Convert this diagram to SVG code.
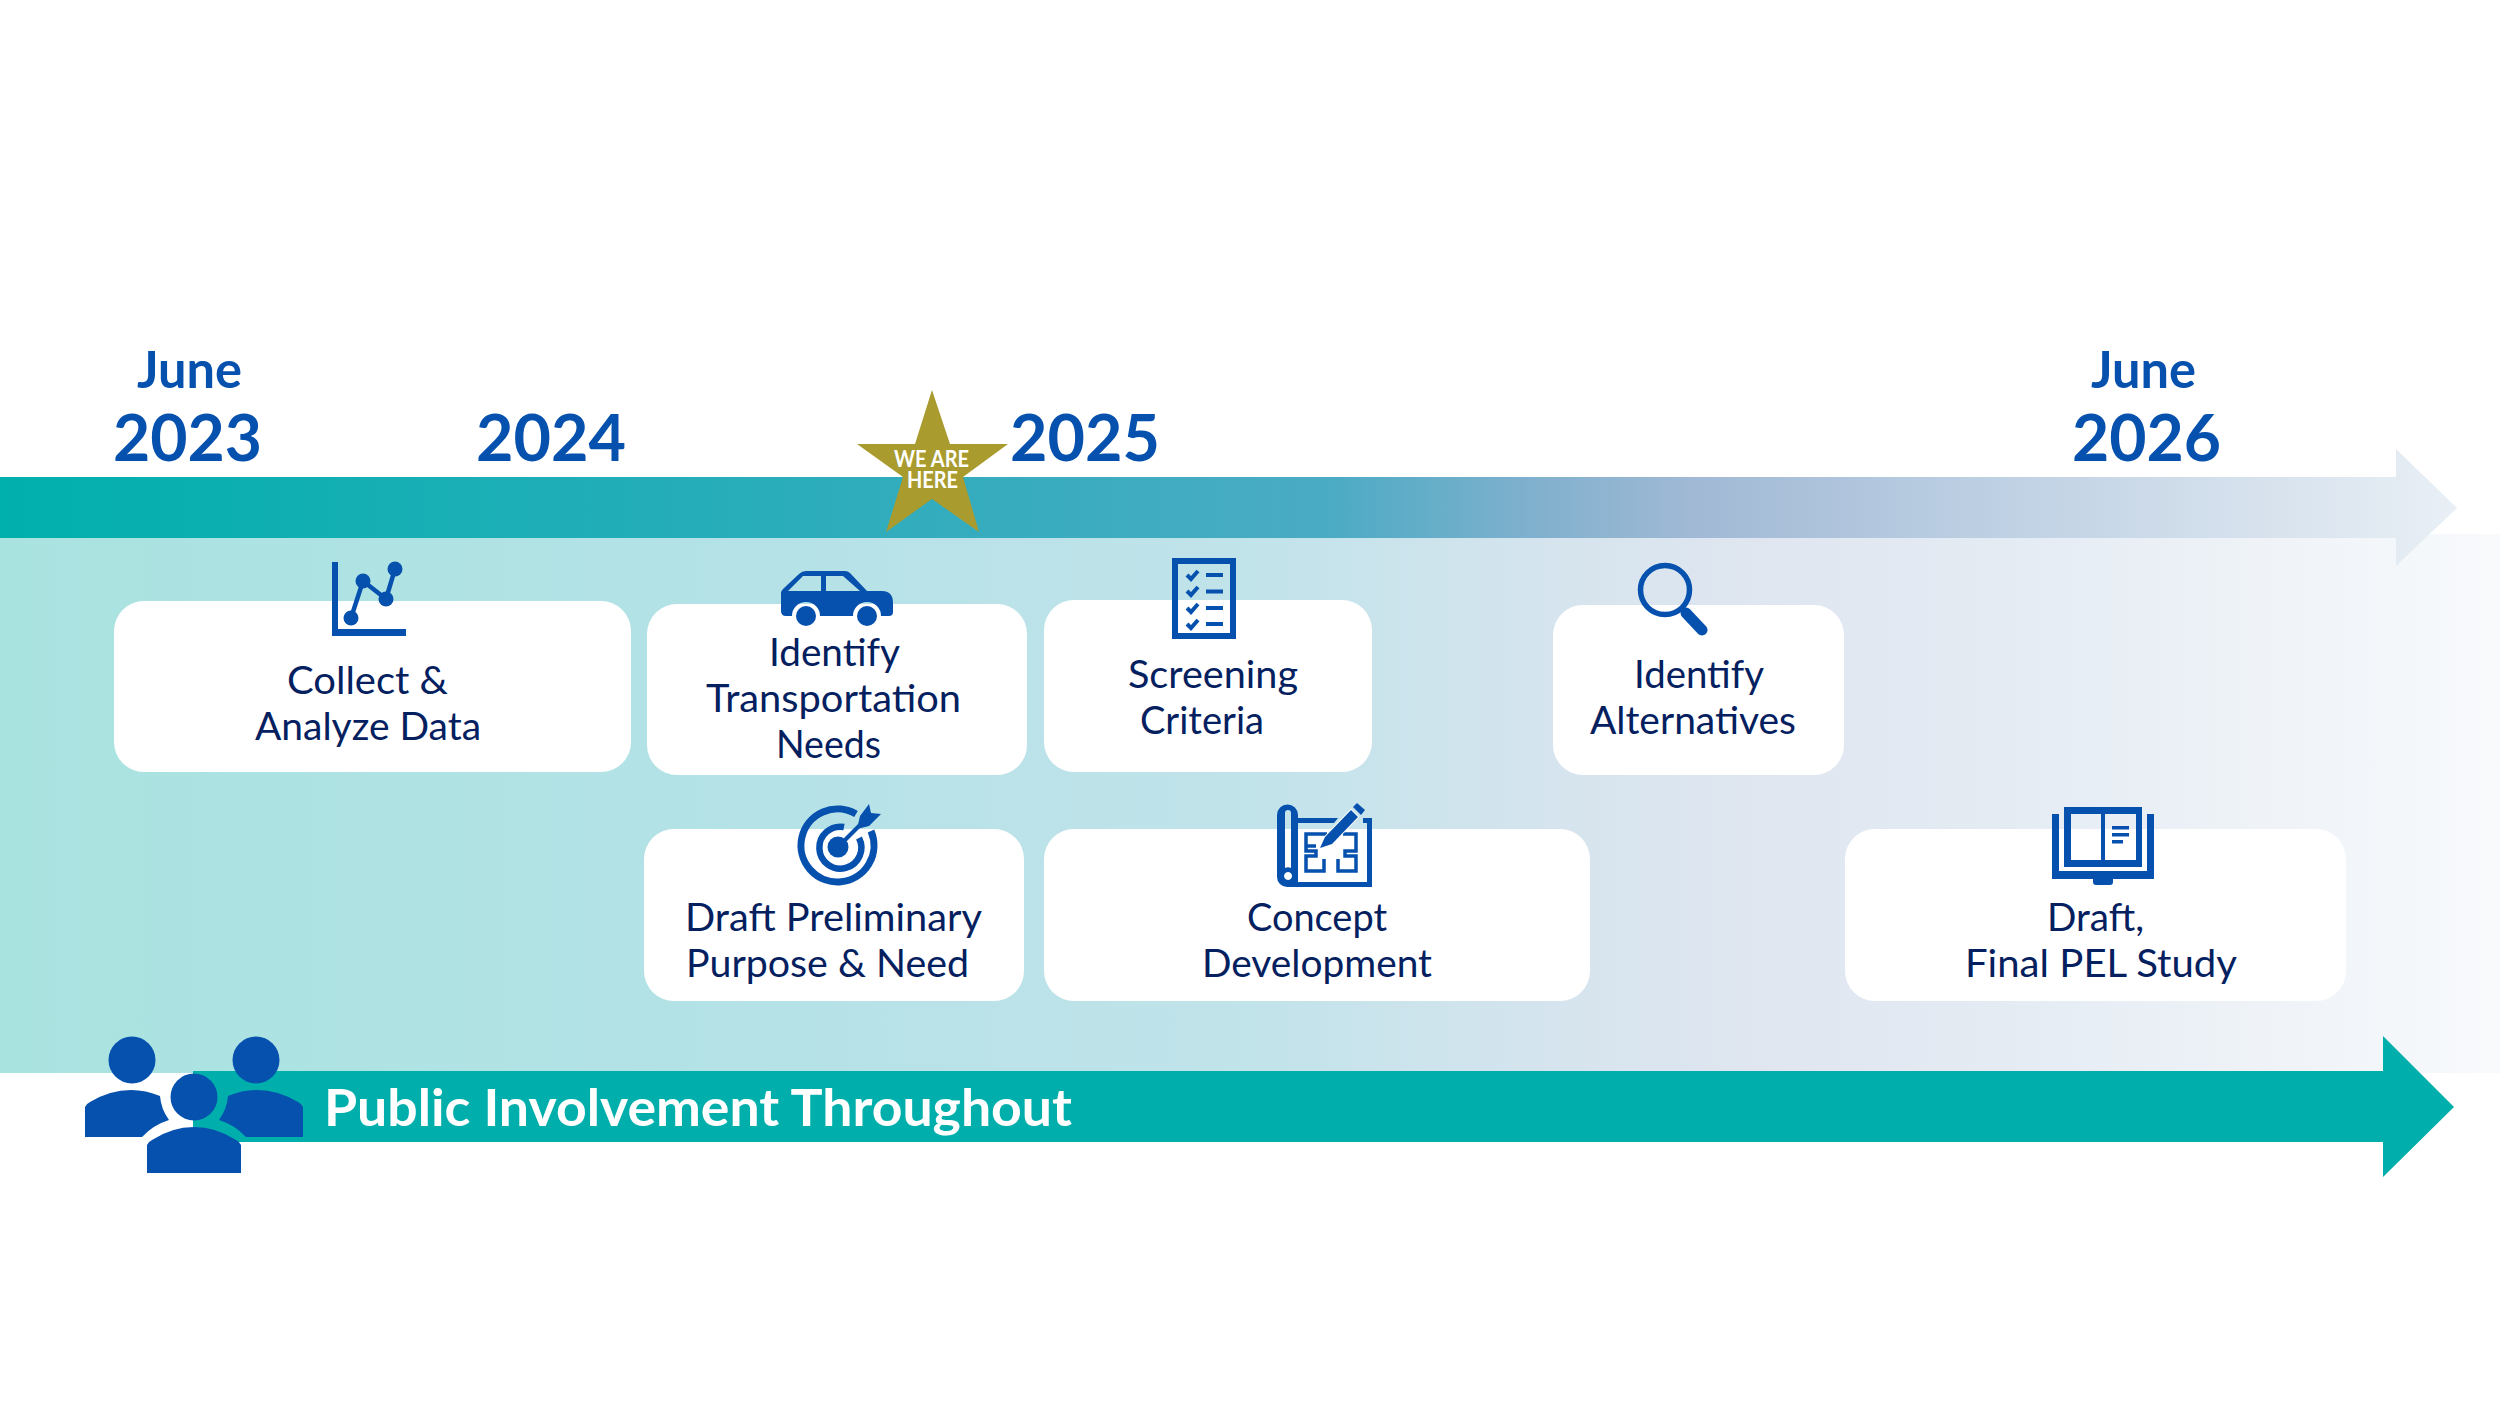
<svg xmlns="http://www.w3.org/2000/svg" width="2500" height="1406" viewBox="0 0 2500 1406">
<style>
.l{font-family:Lato,"Noto Sans",sans-serif;font-size:39.500px;fill:#04205f}
.y{font-family:Lato,"Noto Sans",sans-serif;font-weight:700;fill:#0650ae}
.m{font-size:52px}.n{font-size:65px}
.s{font-family:Lato,"Noto Sans",sans-serif;font-weight:700;font-size:23px;fill:#fff}
.c{fill:#fff}
.i{fill:#0650ae}
.o{fill:none;stroke:#0650ae}
</style>
<defs>
<linearGradient id="band" x1="0" x2="2500" y1="0" y2="0" gradientUnits="userSpaceOnUse">
<stop offset="0" stop-color="#a9e3e0"/><stop offset=".32" stop-color="#b5e2e7"/><stop offset=".5" stop-color="#c1e3ea"/><stop offset=".62" stop-color="#d5e4ee"/><stop offset=".7" stop-color="#dfe6f0"/><stop offset=".8" stop-color="#e4ebf3"/><stop offset="1" stop-color="#f8fafc"/>
</linearGradient>
<linearGradient id="bar" x1="0" x2="2457" y1="0" y2="0" gradientUnits="userSpaceOnUse">
<stop offset="0" stop-color="#00b0ac"/><stop offset=".33" stop-color="#2cadbc"/><stop offset=".54" stop-color="#4aabc4"/><stop offset=".62" stop-color="#7eb0cd"/><stop offset=".69" stop-color="#a1b9d5"/><stop offset=".8" stop-color="#bbcee2"/><stop offset="1" stop-color="#e9eff5"/>
</linearGradient>
</defs>
<rect id="band-bg" x="0" y="534" width="2500" height="539" fill="url(#band)"/>
<g id="connectors">
<path id="timeline-arrow" d="M0 477H2396V449L2457 508 2396 566V538H0Z" fill="url(#bar)"/>
<path id="involvement-arrow" d="M193 1071H2383V1036L2454 1107 2383 1177V1142H193Z" fill="#00afab"/>
</g>
<g id="dates">
<text class="y m" x="137" y="388" textLength="105" lengthAdjust="spacingAndGlyphs">June</text>
<text class="y n" x="113" y="461" textLength="149" lengthAdjust="spacingAndGlyphs">2023</text>
<text class="y n" x="476" y="461" textLength="150" lengthAdjust="spacingAndGlyphs">2024</text>
<text class="y n" x="1010" y="461" textLength="150" lengthAdjust="spacingAndGlyphs">2025</text>
<text class="y m" x="2091" y="388" textLength="105" lengthAdjust="spacingAndGlyphs">June</text>
<text class="y n" x="2072" y="461" textLength="149" lengthAdjust="spacingAndGlyphs">2026</text>
</g>
<g id="node-collect">
<rect class="c" x="114" y="601" width="517" height="171" rx="30"/>
<path class="i" d="M332 562h6v67h68v7h-74z"/>
<path class="o" stroke-width="4.5" d="M351 618L363 581 386 599 395 569"/>
<circle class="i" cx="351" cy="618" r="7.500"/><circle class="i" cx="363" cy="581" r="7.500"/><circle class="i" cx="386" cy="599" r="7.500"/><circle class="i" cx="395" cy="569" r="7.500"/>
<text class="l" x="287" y="694" textLength="161" lengthAdjust="spacingAndGlyphs">Collect &amp;</text>
<text class="l" x="255" y="740" textLength="226" lengthAdjust="spacingAndGlyphs">Analyze Data</text>
</g>
<g id="node-needs">
<rect class="c" x="647" y="604" width="380" height="171" rx="30"/>
<path class="i" fill-rule="evenodd" d="M781 593Q781 591 783 589L799 574Q802 571 806 571H845Q848 571 850 573L867 591H882Q893 591 893 603V612Q893 616 889 616H881A14 14 0 0 0 853 616H820A14 14 0 0 0 792 616H786Q781 616 781 611ZM788 591H821V576H803ZM826 591H860L843 576H826Z"/>
<circle class="i" cx="806" cy="616" r="10"/><circle class="i" cx="867" cy="616" r="10"/>
<text class="l" x="769" y="666" textLength="131" lengthAdjust="spacingAndGlyphs">Identify</text>
<text class="l" x="706" y="712" textLength="255" lengthAdjust="spacingAndGlyphs">Transportation</text>
<text class="l" x="776" y="758" textLength="105" lengthAdjust="spacingAndGlyphs">Needs</text>
</g>
<g id="node-screening">
<rect class="c" x="1044" y="600" width="328" height="172" rx="30"/>
<rect class="o" x="1175" y="561" width="58" height="75" stroke-width="6"/>
<path class="o" stroke-width="4" d="M1187 575l4 4 7-8M1187 591l4 4 7-8M1187 608l4 4 7-8M1187 624l4 4 7-8"/>
<g class="i"><rect x="1206" y="573" width="17" height="4"/><rect x="1206" y="589.500" width="17" height="4"/><rect x="1206" y="606" width="17" height="4"/><rect x="1206" y="622" width="17" height="4"/></g>
<text class="l" x="1128" y="688" textLength="170" lengthAdjust="spacingAndGlyphs">Screening</text>
<text class="l" x="1140" y="734" textLength="124" lengthAdjust="spacingAndGlyphs">Criteria</text>
</g>
<g id="node-alternatives">
<rect class="c" x="1553" y="605" width="291" height="170" rx="30"/>
<circle class="o" cx="1665" cy="590" r="24.500" stroke-width="5.500"/>
<path d="M1686 613L1702 630" stroke="#0650ae" stroke-width="11" stroke-linecap="round"/>
<path d="M1682 608L1688 615" stroke="#0650ae" stroke-width="5"/>
<text class="l" x="1634" y="688" textLength="130" lengthAdjust="spacingAndGlyphs">Identify</text>
<text class="l" x="1590" y="734" textLength="206" lengthAdjust="spacingAndGlyphs">Alternatives</text>
</g>
<g id="node-purpose">
<rect class="c" x="644" y="829" width="380" height="172" rx="30"/>
<circle class="i" cx="838" cy="847" r="10.500"/>
<path class="o" stroke-width="7" d="M856 814A36.500 36.500 0 1 0 871 831"/>
<path class="o" stroke-width="6.500" d="M844 827A21 21 0 1 0 859 838"/>
<path class="o" stroke-width="4" d="M838 847L864 821"/>
<path class="i" d="M860 816L869 804 871 813 881 814 869 826 857 829Z"/>
<text class="l" x="685" y="931" textLength="297" lengthAdjust="spacingAndGlyphs">Draft Preliminary</text>
<text class="l" x="686" y="977" textLength="283" lengthAdjust="spacingAndGlyphs">Purpose &amp; Need</text>
</g>
<g id="node-concept">
<rect class="c" x="1044" y="829" width="546" height="172" rx="30"/>
<path class="i" fill-rule="evenodd" d="M1277 815A10 10 0 0 1 1298 815V818H1338L1334 823H1298V882H1367V823H1363V818H1372V887H1287A10 10 0 0 1 1277 877ZM1285 813V868A6 6 0 0 1 1291 868V813A3 3 0 0 0 1285 813ZM1288 872A4 4 0 1 0 1288.100 872Z"/>
<path class="o" stroke-width="3.500" d="M1327 834H1306V851H1316V856H1306V871H1324V859M1338 859V871H1356V856H1345V851H1356V834H1343M1316 846H1306"/>
<path d="M1320 848L1325 837 1351 810 1358 817 1332 844Z" fill="#0650ae" stroke="#fff" stroke-width="2" paint-order="stroke"/>
<path class="i" d="M1353 807L1357 803 1365 810 1361 815Z"/>
<text class="l" x="1247" y="931" textLength="140" lengthAdjust="spacingAndGlyphs">Concept</text>
<text class="l" x="1202" y="977" textLength="230" lengthAdjust="spacingAndGlyphs">Development</text>
</g>
<g id="node-final">
<rect class="c" x="1845" y="829" width="501" height="172" rx="30"/>
<path class="i" d="M2052 814h7v57h88v-57h7v65h-41v3q0 3-3 3h-14q-3 0-3-3v-3h-41z"/>
<path class="i" fill-rule="evenodd" d="M2064 807h78v60h-78zM2071 814v46h30v-46zM2105 814v46h31v-46z"/>
<g class="i"><rect x="2112" y="826" width="17" height="3.500"/><rect x="2112" y="833" width="17" height="3.500"/><rect x="2112" y="840" width="11" height="3.500"/></g>
<text class="l" x="2047" y="931" textLength="97" lengthAdjust="spacingAndGlyphs">Draft,</text>
<text class="l" x="1965" y="977" textLength="272" lengthAdjust="spacingAndGlyphs">Final PEL Study</text>
</g>
<g id="node-public">
<circle class="i" cx="132" cy="1060" r="23.500"/><circle class="i" cx="256" cy="1060" r="23.500"/><circle class="i" cx="194" cy="1097" r="23.500"/>
<path class="i" d="M85 1137V1107Q86 1104 90 1102 110 1090 131 1090 146 1090 160 1096 161 1109 169 1120 153 1125 142 1137Z"/>
<path class="i" d="M303 1137V1107Q302 1104 298 1102 278 1090 257 1090 242 1090 228 1096 227 1109 219 1120 235 1125 246 1137Z"/>
<path class="i" d="M147 1173V1145Q148 1142 152 1140 172 1127 194 1127 216 1127 236 1140 240 1142 241 1145V1173Z"/>
<text x="324" y="1126" textLength="748" lengthAdjust="spacingAndGlyphs" font-family="Lato, 'Noto Sans', sans-serif" font-weight="700" font-size="52" fill="#fff">Public Involvement Throughout</text>
</g>
<g id="node-here">
<path d="M932 390L950 444H1008L963 477 979 532 932 499 886 532 903 477 857 444H915Z" fill="#a99b2e"/>
<text class="s"><tspan x="894" y="467" textLength="75" lengthAdjust="spacingAndGlyphs">WE ARE</tspan><tspan x="907" y="488" textLength="51" lengthAdjust="spacingAndGlyphs">HERE</tspan></text>
</g>
</svg>
